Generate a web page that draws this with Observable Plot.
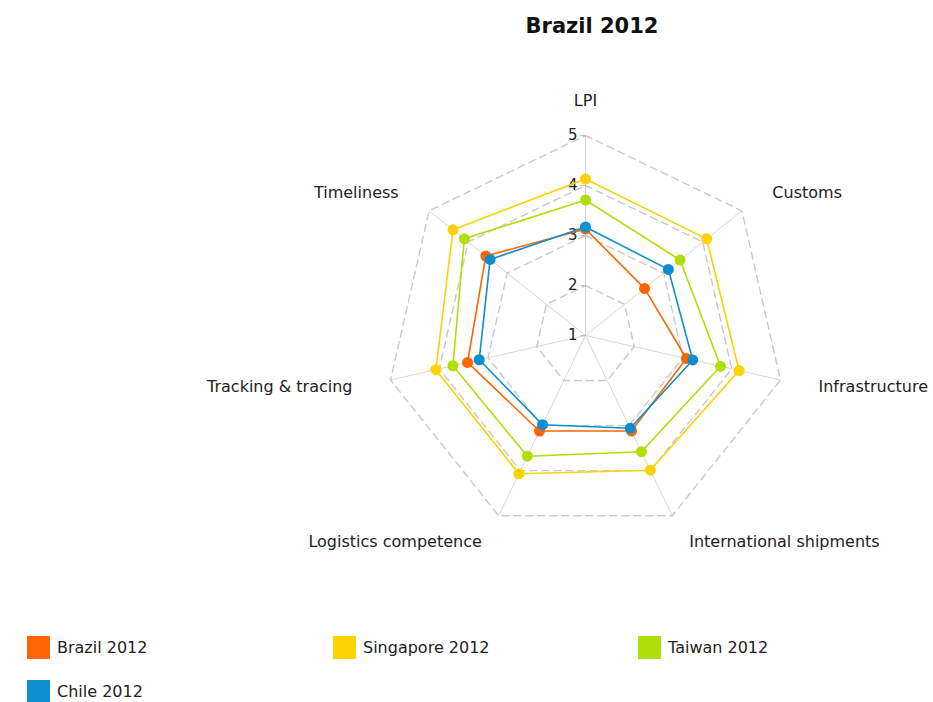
<!DOCTYPE html>
<html><head><meta charset="utf-8">
<script src="https://cdn.jsdelivr.net/npm/d3@7"></script>
<script src="https://cdn.jsdelivr.net/npm/@observablehq/plot@0.6"></script>
<style>
body{margin:0;background:#fff;font-family:"DejaVu Sans",Verdana,sans-serif;}
#wrap{position:relative;width:933px;height:702px;overflow:hidden;background:#fff;}
#title{position:absolute;top:14px;left:592px;transform:translateX(-50%);font-weight:bold;font-size:21px;color:#111;white-space:nowrap;}
#chart{position:absolute;top:0;left:0;}
.lg{position:absolute;display:flex;align-items:center;font-size:16px;color:#222;white-space:nowrap;}
.sw{width:23px;height:23px;margin-right:7px;}
</style></head><body>
<div id="wrap"><div id="chart"></div><div id="title">Brazil 2012</div><div id="legend"></div></div>
<script>
// ---- data ----
const axesNames = ["LPI","Customs","Infrastructure","International shipments","Logistics competence","Tracking & tracing","Timeliness"];
const seriesNames = ["Brazil 2012","Singapore 2012","Taiwan 2012","Chile 2012"];
const brazil    = [3.13,2.51,3.07,3.12,3.12,3.42,3.55];
const singapore = [4.13,4.10,4.15,3.99,4.07,4.07,4.39];
const taiwan    = [3.71,3.42,3.77,3.58,3.68,3.72,4.10];
const chile     = [3.17,3.12,3.20,3.06,2.98,3.18,3.44];
const seriesColors = ["#FF6600","#FCD202","#B0DE09","#0D8ECF"];
const tickValues = [1,2,3,4,5];
const ringValues = [2,3,4,5];

// ---- geometry helpers (polar -> cartesian in value units) ----
const N = axesNames.length;
const minV = 1;
const ang = k => k * 2 * Math.PI / N;
const px = (v, k) => (v - minV) * Math.sin(ang(k));
const py = (v, k) => (v - minV) * Math.cos(ang(k));

const seriesValues = [brazil, singapore, taiwan, chile];
const rows = [];
seriesNames.forEach((s, i) => seriesValues[i].forEach((v, k) => rows.push({series: s, axis: axesNames[k], k, value: v, x: px(v, k), y: py(v, k)})));

const rings = [];
ringValues.forEach(v => axesNames.forEach((a, k) => rings.push({ring: v, x: px(v, k), y: py(v, k)})));

const spokes = axesNames.map((a, k) => ({x1: 0, y1: 0, x2: px(5, k), y2: py(5, k)}));

const labelRx = 5.78, labelRy = 5.58;
const labels = axesNames.map((a, k) => {
  const s = Math.sin(ang(k));
  return {name: a, k, x: px(labelRx, k), y: k === 0 ? py(5.72, k) : py(labelRy, k), anchor: s > 0.1 ? "start" : s < -0.1 ? "end" : "middle"};
});

const W = 933, H = 620, cx = 585, cy = 335, unit = 50;

const chart = Plot.plot({
  width: W, height: H,
  marginTop: 0, marginRight: 0, marginBottom: 0, marginLeft: 0,
  style: {fontFamily: "'DejaVu Sans', Verdana, sans-serif", background: "transparent"},
  x: {domain: [-cx / unit, (W - cx) / unit], range: [0, W], axis: null},
  y: {domain: [(cy - H) / unit, cy / unit], range: [H, 0], axis: null},
  color: {domain: seriesNames, range: seriesColors},
  marks: [
    Plot.link(spokes, {x1: "x1", y1: "y1", x2: "x2", y2: "y2", stroke: "#d6d6d6", strokeWidth: 1}),
    Plot.line(rings, {x: "x", y: "y", z: "ring", curve: "linear-closed", stroke: "#c8c8c8", strokeWidth: 1.4, strokeDasharray: "7,5"}),
    Plot.link(tickValues, {x1: -0.1, x2: 0, y1: d => d - minV, y2: d => d - minV, stroke: "#bbbbbb"}),
    Plot.text(tickValues, {x: 0, y: d => d - minV, text: d => String(d), textAnchor: "end", dx: -8, fontSize: 15, fill: "#222"}),
    Plot.text(labels.filter(d => d.anchor === "start"), {x: "x", y: "y", text: "name", textAnchor: "start", fontSize: 16, fill: "#222"}),
    Plot.text(labels.filter(d => d.anchor === "end"), {x: "x", y: "y", text: "name", textAnchor: "end", fontSize: 16, fill: "#222"}),
    Plot.text(labels.filter(d => d.anchor === "middle"), {x: "x", y: "y", text: "name", textAnchor: "middle", lineAnchor: "bottom", dy: 6, fontSize: 16, fill: "#222"}),
    Plot.line(rows, {x: "x", y: "y", z: "series", stroke: "series", curve: "linear-closed", strokeWidth: 1.6}),
    Plot.dot(rows, {x: "x", y: "y", fill: "series", r: 5.5})
  ]
});
document.getElementById("chart").appendChild(chart);

// ---- legend ----
const legendPos = [[27, 636], [333, 636], [638, 636], [27, 680]];
const lg = document.getElementById("legend");
seriesNames.forEach((s, i) => {
  const d = document.createElement("div");
  d.className = "lg";
  d.style.left = legendPos[i][0] + "px";
  d.style.top = legendPos[i][1] + "px";
  d.innerHTML = `<span class="sw" style="background:${seriesColors[i]}"></span><span>${s}</span>`;
  lg.appendChild(d);
});
</script>
</body></html>
